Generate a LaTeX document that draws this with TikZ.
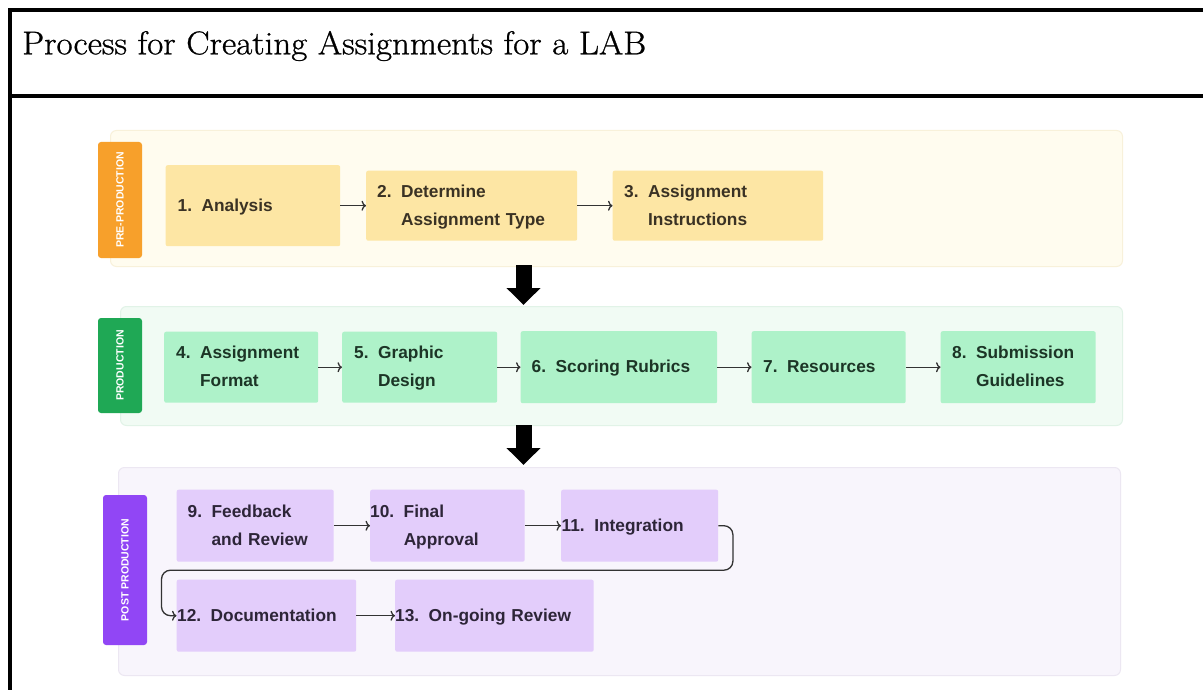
\documentclass[tikz,border=0pt]{standalone}
\usepackage{fontspec}
\setsansfont{Liberation Sans}
\newfontfamily\titlefont[FakeBold=0.8,FakeStretch=1.06]{Latin Modern Roman}
\usetikzlibrary{arrows.meta}
\definecolor{preband}{HTML}{FFFCEF}
\definecolor{prebandline}{HTML}{F8F1DA}
\definecolor{prebox}{HTML}{FDE6A4}
\definecolor{pretab}{HTML}{F7A02B}
\definecolor{pretext}{HTML}{3A3224}
\definecolor{proband}{HTML}{F1FBF4}
\definecolor{probandline}{HTML}{E1F3E7}
\definecolor{probox}{HTML}{AEF2C9}
\definecolor{protab}{HTML}{1FA855}
\definecolor{protext}{HTML}{1C3526}
\definecolor{postband}{HTML}{F8F5FC}
\definecolor{postbandline}{HTML}{ECE7F2}
\definecolor{postbox}{HTML}{E3CDFB}
\definecolor{posttab}{HTML}{9146F5}
\definecolor{posttext}{HTML}{2D2538}
\definecolor{flowc}{HTML}{333333}
\newcommand\steptext[2]{\begin{tabular}{@{}l@{\hskip 9.5pt}l@{}}#1&#2\end{tabular}}
\newcommand\mystep[8]{\pgfmathsetmacro\mytw{#4-2*#7}%
  \node[stepbox,#6,minimum width=#4pt,minimum height=#5pt,inner xsep=#7pt,text width=\mytw pt] (#1) at (#2,#3) {#8};}
\newcommand\myband[6]{\node[bandbox,#6,minimum width=#4pt,minimum height=#5pt] (#1) at (#2,#3) {};}
\tikzset{
  stepbox/.style={rectangle, rounded corners=2pt, inner ysep=0pt, anchor=north west,
    font=\sffamily\bfseries\fontsize{17.3}{28}\selectfont, align=left},
  prestep/.style={fill=prebox, text=pretext},
  prostep/.style={fill=probox, text=protext},
  poststep/.style={fill=postbox, text=posttext},
  bandbox/.style={rectangle, rounded corners=6pt, anchor=north west, line width=1pt, inner sep=0pt},
  tabbox/.style={rectangle, rounded corners=3pt, rotate=90, minimum height=44pt, inner sep=0pt,
    text=white, font=\sffamily\bfseries\fontsize{10.5}{12}\selectfont},
  flow/.style={draw=flowc, line width=1.3pt, -{To[length=4.5pt,width=10pt]}},
  bigarrow/.style={draw=black, line width=16pt, -{Triangle[length=17pt,width=33pt]}},
  frameline/.style={line width=3.4pt, draw=black}
}
\begin{document}
\begin{tikzpicture}[x=1pt,y=-1pt]
\useasboundingbox (0,0) rectangle (1203,690);
\clip (0,0) rectangle (1203,690);
\fill[white] (0,0) rectangle (1203,690);
% frame
\draw[frameline] (1215,10) -- (10,10) -- (10,700);
\draw[frameline] (10,96) -- (1215,96);
\node[anchor=base west, inner sep=0pt, font=\titlefont\fontsize{33}{36}\selectfont] (title) at (22,54.3) {Process for Creating Assignments for a LAB};
% bands
\myband{pre}{110}{130}{1012}{136}{fill=preband, draw=prebandline}
\myband{prod}{120}{306}{1002}{119}{fill=proband, draw=probandline}
\myband{post}{118}{467}{1002}{208}{fill=postband, draw=postbandline}
% tabs
\node[tabbox, fill=pretab, minimum width=116pt] (t1) at (120,200) {PRE-PRODUCTION};
\node[tabbox, fill=protab, minimum width=95pt] (t2) at (120,365.5) {PRODUCTION};
\node[tabbox, fill=posttab, minimum width=150pt] (t3) at (125,570) {POST PRODUCTION};
% pre-production steps
\mystep{b1}{165.5}{165}{174.5}{81}{prestep}{12}{\steptext{1.}{Analysis}}
\mystep{b2}{366}{170.5}{211}{70}{prestep}{11}{\steptext{2.}{Determine\\ & Assignment Type}}
\mystep{b3}{612.5}{170.5}{210.5}{70}{prestep}{11.5}{\steptext{3.}{Assignment\\ & Instructions}}
% production steps
\mystep{b4}{164}{331.5}{154}{71}{prostep}{12}{\steptext{4.}{Assignment\\ & Format}}
\mystep{b5}{342}{331.5}{155}{71}{prostep}{12}{\steptext{5.}{Graphic\\ & Design}}
\mystep{b6}{520.5}{331}{196.5}{72}{prostep}{11}{\steptext{6.}{Scoring Rubrics}}
\mystep{b7}{751.5}{331}{154}{72}{prostep}{11.5}{\steptext{7.}{Resources}}
\mystep{b8}{940.5}{331}{155}{72}{prostep}{11.5}{\steptext{8.}{Submission\\ & Guidelines}}
% post production steps
\mystep{b9}{176.5}{489.5}{157}{72}{poststep}{11}{\steptext{9.}{Feedback\\ & and Review}}
\mystep{b10}{370}{489.5}{154.5}{72}{poststep}{0}{\steptext{10.}{Final\\ & Approval}}
\mystep{b11}{561}{489.5}{157}{72}{poststep}{0.5}{\steptext{11.}{Integration}}
\mystep{b12}{176.5}{579.5}{179.5}{72}{poststep}{0.5}{\steptext{12.}{Documentation}}
\mystep{b13}{395}{579.5}{198.5}{72}{poststep}{0}{\steptext{13.}{On-going Review}}
% connectors
\draw[flow] (b1.east) -- (b2.west);
\draw[flow] (b2.east) -- (b3.west);
\draw[flow] (b4.east) -- (b5.west);
\draw[flow] (b5.east) -- (b6.west);
\draw[flow] (b6.east) -- (b7.west);
\draw[flow] (b7.east) -- (b8.west);
\draw[flow] (b9.east) -- (b10.west);
\draw[flow] (b10.east) -- (b11.west);
\draw[flow, rounded corners=9pt] (b11.east) -- ++(14.5,0) -- ++(0,44.5) -| ([xshift=-15pt]b12.west) -- (b12.west);
\draw[flow] (b12.east) -- (b13.west);
% big arrows between phases
\coordinate (ax) at (523.5,0);
\draw[bigarrow] ([yshift=2pt]pre.south -| ax) -- ([yshift=1pt]prod.north -| ax);
\draw[bigarrow] ([yshift=1pt]prod.south -| ax) -- ([yshift=2pt]post.north -| ax);
\end{tikzpicture}
\end{document}
